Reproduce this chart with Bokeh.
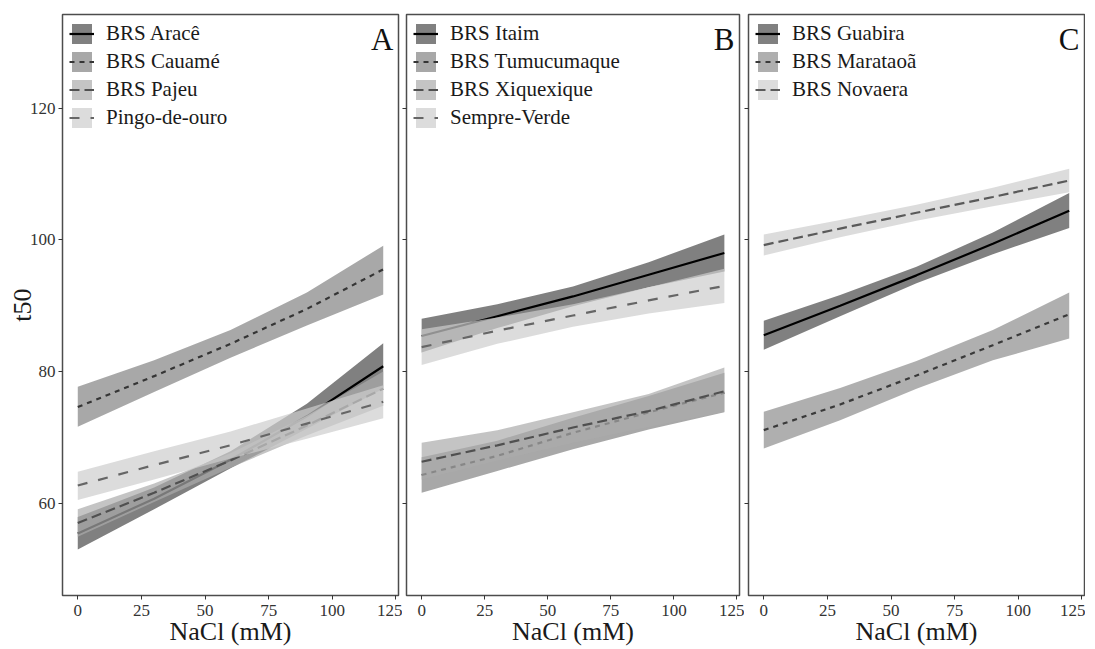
from bokeh.plotting import figure
from bokeh.models import Range1d, FixedTicker, LinearAxis, Legend, LegendItem, Label
from bokeh.layouts import row
from bokeh.embed import file_html
from bokeh.resources import INLINE

# ---------------- data ----------------
nacl = [0, 30, 60, 90, 120]
x_ticks = [0, 25, 50, 75, 100, 125]
y_ticks = [60, 80, 100, 120]

# Panel A
a_names = ["BRS Aracê", "BRS Cauamé", "BRS Pajeu", "Pingo-de-ouro"]
a_fit = [
    [55.4, 60.7, 66.6, 73.2, 80.8],
    [74.6, 79.3, 84.2, 89.5, 95.5],
    [57.0, 61.6, 66.5, 71.8, 77.4],
    [62.7, 65.8, 68.8, 72.1, 75.4],
]
a_low = [
    [53.0, 59.1, 65.3, 71.3, 77.4],
    [71.6, 76.9, 82.1, 87.0, 91.7],
    [54.9, 60.2, 65.4, 70.3, 74.8],
    [60.5, 63.6, 66.8, 69.8, 72.9],
]
a_high = [
    [57.9, 62.4, 67.9, 75.1, 84.3],
    [77.7, 81.7, 86.3, 92.0, 99.1],
    [59.1, 63.0, 67.6, 73.3, 80.0],
    [64.8, 67.9, 70.9, 74.4, 77.9],
]

# Panel B
b_names = ["BRS Itaim", "BRS Tumucumaque", "BRS Xiquexique", "Sempre-Verde"]
b_fit = [
    [85.4, 88.4, 91.4, 94.7, 98.0],
    [64.3, 67.2, 70.7, 73.8, 76.8],
    [66.3, 68.8, 71.5, 74.0, 77.0],
    [83.7, 86.2, 88.5, 90.8, 93.0],
]
b_low = [
    [82.9, 86.6, 89.9, 92.8, 95.2],
    [61.6, 64.9, 68.2, 71.2, 73.8],
    [63.6, 66.5, 69.2, 71.6, 73.9],
    [81.0, 84.2, 86.8, 88.8, 90.4],
]
b_high = [
    [88.0, 90.2, 92.9, 96.6, 100.8],
    [67.0, 69.5, 73.0, 76.3, 79.8],
    [69.2, 71.1, 73.8, 76.6, 80.6],
    [86.4, 88.2, 90.2, 92.8, 95.6],
]

# Panel C
c_names = ["BRS Guabira", "BRS Marataoã", "BRS Novaera"]
c_fit = [
    [85.5, 90.0, 94.6, 99.4, 104.4],
    [71.1, 75.0, 79.4, 84.0, 88.7],
    [99.2, 101.7, 104.1, 106.5, 109.0],
]
c_low = [
    [83.3, 88.4, 93.4, 97.8, 101.8],
    [68.3, 72.6, 77.4, 81.7, 85.0],
    [97.6, 100.4, 102.9, 105.1, 107.2],
]
c_high = [
    [87.7, 91.6, 95.9, 101.1, 107.1],
    [73.9, 77.5, 81.6, 86.3, 92.0],
    [100.8, 103.0, 105.3, 107.9, 110.8],
]

panel_letters = ["A", "B", "C"]

# ---------------- styles ----------------
FONT = "Liberation Serif"
fills4 = ["#4a4a4a", "#838383", "#ababab", "#cdcdcd"]
fills3 = ["#4a4a4a", "#8d8d8d", "#cdcdcd"]
lines4 = ["#000000", "#353535", "#505050", "#666666"]
lines3 = ["#000000", "#3a3a3a", "#5a5a5a"]
dashes4 = ["solid", "5 5", "10 5", "10 11"]
dashes3 = ["solid", "5 5", "10 5"]
ALPHA = 0.7

x_range = Range1d(-6, 126)
y_range = Range1d(46, 134.2)


def make_panel(names, fit, low, high, letter, first, fills, lcols, dashes,
               fw, left_border, right_border):
    p = figure(frame_width=fw, frame_height=581, x_range=x_range, y_range=y_range,
               output_backend="svg", toolbar_location=None,
               y_axis_location=None, min_border_top=14, min_border_bottom=0,
               min_border_left=left_border, min_border_right=right_border,
               background_fill_color="white", border_fill_color="white")
    p.xgrid.visible = False
    p.ygrid.visible = False
    p.outline_line_color = "#4d4d4d"
    p.outline_line_width = 1.5

    yax = LinearAxis(ticker=FixedTicker(ticks=y_ticks))
    yax.axis_line_color = None
    yax.major_tick_out = 4
    yax.major_tick_in = 0
    yax.minor_tick_line_color = None
    yax.major_tick_line_color = "#333333"
    if first:
        yax.axis_label = "t50"
        yax.axis_label_text_font = FONT
        yax.axis_label_text_font_size = "26px"
        yax.axis_label_text_font_style = "normal"
        yax.axis_label_text_color = "#1a1a1a"
        yax.axis_label_standoff = -10
        yax.major_label_text_font = FONT
        yax.major_label_text_font_size = "17px"
        yax.major_label_text_color = "#333333"
        yax.major_label_standoff = 3
    else:
        yax.major_label_text_font_size = "1px"
        yax.major_label_text_color = None
        yax.major_label_standoff = 0
    p.add_layout(yax, "left")

    xax = p.xaxis[0]
    xax.ticker = FixedTicker(ticks=x_ticks)
    xax.axis_line_color = None
    xax.major_tick_out = 4
    xax.major_tick_in = 0
    xax.minor_tick_line_color = None
    xax.major_tick_line_color = "#333333"
    xax.major_label_text_font = FONT
    xax.major_label_text_font_size = "17px"
    xax.major_label_text_color = "#333333"
    xax.major_label_standoff = 5
    xax.axis_label = "NaCl (mM)"
    xax.axis_label_text_font = FONT
    xax.axis_label_text_font_size = "26px"
    xax.axis_label_text_font_style = "normal"
    xax.axis_label_text_color = "#1a1a1a"
    xax.axis_label_standoff = -2

    items = []
    for i, name in enumerate(names):
        ra = p.varea(x=nacl, y1=low[i], y2=high[i], fill_color=fills[i], fill_alpha=ALPHA)
        rl = p.line(x=nacl, y=fit[i], line_color=lcols[i], line_width=2.2,
                    line_dash=dashes[i])
        items.append(LegendItem(label=name, renderers=[ra, rl]))

    leg = Legend(items=items, location="top_left")
    leg.margin = 0
    leg.padding = 7
    leg.spacing = 3
    leg.glyph_width = 25
    leg.glyph_height = 25
    leg.label_standoff = 12
    leg.label_text_font = FONT
    leg.label_text_font_size = "21px"
    leg.label_text_color = "#1a1a1a"
    leg.background_fill_alpha = 0
    leg.border_line_alpha = 0
    p.add_layout(leg)

    lab = Label(x=126, y=134.2, text=letter, text_align="right", text_baseline="top",
                x_offset=-5, y_offset=-7, text_font=FONT, text_font_size="31px",
                text_color="#111111")
    p.add_layout(lab)
    return p


pA = make_panel(a_names, a_fit, a_low, a_high, panel_letters[0], True,
                fills4, lines4, dashes4, 336, 62, 4)
pB = make_panel(b_names, b_fit, b_low, b_high, panel_letters[1], False,
                fills4, lines4, dashes4, 333, 0, 5)
pC = make_panel(c_names, c_fit, c_low, c_high, panel_letters[2], False,
                fills3, lines3, dashes3, 336, 0, 1)

layout = row(pA, pB, pC)
open("out.html", "w").write(file_html(layout, INLINE))
